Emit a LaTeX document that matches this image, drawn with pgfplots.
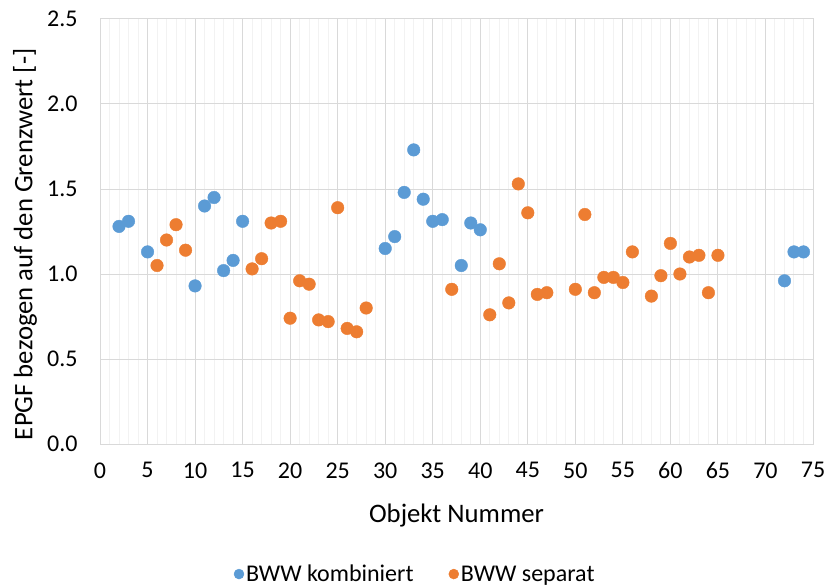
\documentclass[border=0pt]{standalone}
\usepackage{fontspec}
\setmainfont{Carlito}
\usepackage{pgfplots}
\pgfplotsset{compat=1.18}
\definecolor{bwwblau}{HTML}{5B9BD5}
\definecolor{bwworange}{HTML}{ED7D31}
\definecolor{gitter}{HTML}{D9D9D9}
\definecolor{feingitter}{HTML}{F2F2F2}

\begin{document}
\begin{tikzpicture}
\begin{axis}[
    scale only axis,
    width=713bp, height=425bp,
    xmin=0, xmax=75, ymin=0, ymax=2.5,
    xtick={0,5,10,15,20,25,30,35,40,45,50,55,60,65,70,75},
    ytick={0,0.5,1,1.5,2,2.5},
    minor x tick num=4,
    grid=both,
    major grid style={gitter, line width=1bp},
    minor grid style={feingitter, line width=1bp},
    axis line style={gitter, line width=1bp},
    major tick length=0pt, minor tick length=0pt,
    ticklabel style={font=\fontsize{24bp}{28bp}\selectfont},
    /pgf/number format/assume math mode=true,
    xticklabel style={yshift=-15bp},
    yticklabel style={xshift=-19bp, /pgf/number format/fixed, /pgf/number format/precision=1, /pgf/number format/fixed zerofill},
    xlabel={Objekt Nummer},
    ylabel={EPGF bezogen auf den Grenzwert [-]},
    label style={font=\fontsize{26.7bp}{30bp}\selectfont},
    xlabel style={at={(axis description cs:0.5,-0.169)}, anchor=center},
    ylabel style={at={(axis description cs:-0.105,0.47)}, anchor=center, rotate=0},
    legend columns=2,
    legend style={draw=none, at={(axis description cs:0.442,-0.306)}, anchor=center,
        font=\fontsize{24bp}{28bp}\selectfont,
        /tikz/every even column/.append style={column sep=33bp}},
    legend image code/.code={\fill (0.45cm,0bp) circle (5bp);},
]
\addplot[only marks, mark=*, mark size=6.3bp, color=bwwblau, mark options={draw=none}] coordinates {
(2,1.28) (3,1.31) (5,1.13) (10,0.93) (11,1.40) (12,1.45) (13,1.02) (14,1.08) (15,1.31)
(30,1.15) (31,1.22) (32,1.48) (33,1.73) (34,1.44) (35,1.31) (36,1.32) (38,1.05) (39,1.30)
(40,1.26) (72,0.96) (73,1.13) (74,1.13)
};
\addplot[only marks, mark=*, mark size=6.3bp, color=bwworange, mark options={draw=none}] coordinates {
(6,1.05) (7,1.20) (8,1.29) (9,1.14) (16,1.03) (17,1.09) (18,1.30) (19,1.31) (20,0.74)
(21,0.96) (22,0.94) (23,0.73) (24,0.72) (25,1.39) (26,0.68) (27,0.66) (28,0.80) (37,0.91)
(41,0.76) (42,1.06) (43,0.83) (44,1.53) (45,1.36) (46,0.88) (47,0.89) (50,0.91) (51,1.35)
(52,0.89) (53,0.98) (54,0.98) (55,0.95) (56,1.13) (58,0.87) (59,0.99) (60,1.18) (61,1.00)
(62,1.10) (63,1.11) (64,0.89) (65,1.11)
};
\legend{BWW kombiniert, BWW separat}
\end{axis}
\pgfresetboundingbox
\path ([shift={(-100bp,-143bp)}]current axis.south west) rectangle ([shift={(14bp,19bp)}]current axis.north east);
\end{tikzpicture}
\end{document}
